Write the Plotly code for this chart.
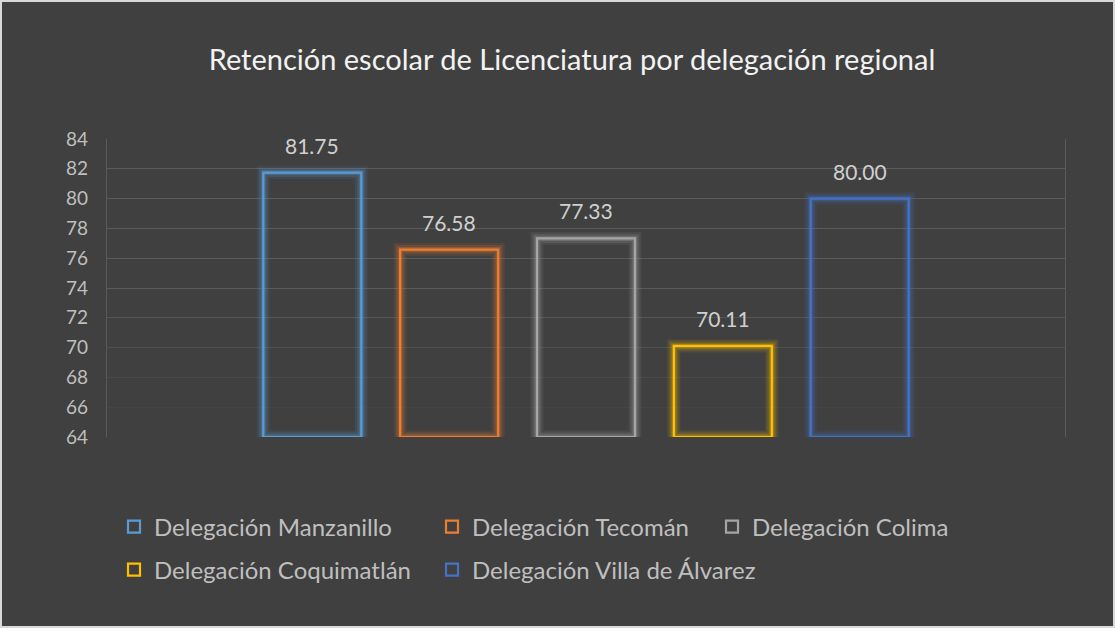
import plotly.graph_objects as go

# Retención escolar de Licenciatura por delegación regional
delegaciones = [
    "Delegación Manzanillo",
    "Delegación Tecomán",
    "Delegación Colima",
    "Delegación Coquimatlán",
    "Delegación Villa de Álvarez",
]
retencion = [81.75, 76.58, 77.33, 70.11, 80.00]
colores = ["#5B9BD5", "#ED7D31", "#A5A5A5", "#FFC000", "#4472C4"]
y_ticks = [64, 66, 68, 70, 72, 74, 76, 78, 80, 82, 84]

W, H = 1115, 628
M_L, M_R, M_T, M_B = 107, 50, 139, 191
BG = "#404040"
TXT = "#BFBFBF"
FONT = "Lato"

y_min, y_max = y_ticks[0], y_ticks[-1]
x_lo, x_hi = -1.5, len(delegaciones) + 0.5

# legend entries laid out on a 3-column grid (pixel centres of the key symbols)
leg_cols = [133, 451, 731]
leg_rows = [527, 570]


def rgba(hex_color, a):
    h = hex_color.lstrip("#")
    r, g, b = int(h[0:2], 16), int(h[2:4], 16), int(h[4:6], 16)
    return f"rgba({r},{g},{b},{a})"


fig = go.Figure()

# soft fade of the gridlines toward the baseline (base axes, under the bars)
fig.add_trace(go.Scatter(
    x=[x_lo, x_hi, x_hi, x_lo, x_lo],
    y=[y_min, y_min, y_max, y_max, y_min],
    fill="toself",
    mode="none",
    fillgradient=dict(
        type="vertical",
        start=y_min,
        stop=y_min + 10,
        colorscale=[[0, rgba(BG, 1.0)], [1, rgba(BG, 0.0)]],
    ),
    showlegend=False,
    hoverinfo="skip",
    xaxis="x", yaxis="y",
))

legend_names = ["legend"] + [f"legend{k}" for k in range(2, len(delegaciones) + 1)]

# outlined bars with a glow halo, on overlaid axes so they sit above the fade
for i, (name, val, col) in enumerate(zip(delegaciones, retencion, colores)):
    for w, a in [(13, 0.10), (9, 0.16), (5, 0.28)]:
        fig.add_trace(go.Bar(
            x=[i], y=[val - y_min], base=y_min,
            marker=dict(color="rgba(0,0,0,0)", line=dict(color=rgba(col, a), width=w)),
            showlegend=False, hoverinfo="skip",
            xaxis="x2", yaxis="y2",
        ))
    fig.add_trace(go.Bar(
        x=[i], y=[val - y_min], base=y_min, name=name,
        marker=dict(color="rgba(0,0,0,0)", line=dict(color=col, width=2.2)),
        legend=legend_names[i],
        xaxis="x2", yaxis="y2",
    ))
    fig.add_annotation(
        x=i, y=val, xref="x2", yref="y2", text=f"{val:.2f}", showarrow=False,
        yanchor="bottom", yshift=13,
        font=dict(family=FONT, size=21, color="#D0D0D0"),
    )

pw = W - M_L - M_R
ph = H - M_T - M_B

legends = {}
for i, lname in enumerate(legend_names):
    cx = leg_cols[i % 3]
    cy = leg_rows[i // 3]
    legends[lname] = dict(
        orientation="h", xanchor="left", yanchor="middle",
        x=(cx - 19 - M_L) / pw, y=1 - (cy - M_T) / ph,
        bgcolor="rgba(0,0,0,0)",
        font=dict(family=FONT, size=24, color=TXT),
        itemclick=False, itemdoubleclick=False,
    )

hidden_x = dict(range=[x_lo, x_hi], showticklabels=False, showgrid=False,
                zeroline=False, showline=False, ticks="")

fig.update_layout(
    width=W, height=H,
    margin=dict(l=M_L, r=M_R, t=M_T, b=M_B),
    paper_bgcolor=BG, plot_bgcolor=BG,
    barmode="overlay", bargap=0.284,
    title=dict(
        text="Retención escolar de Licenciatura por delegación regional",
        x=572 / W, xanchor="center", xref="container",
        y=1 - 60 / H, yanchor="middle", yref="container",
        font=dict(family=FONT, size=29, color="#F2F2F2"),
    ),
    xaxis=hidden_x,
    xaxis2=dict(overlaying="x", **hidden_x),
    yaxis=dict(
        range=[y_min, y_max], tickvals=y_ticks,
        tickfont=dict(family=FONT, size=19, color=TXT),
        ticklabelstandoff=14,
        gridcolor="#5A5A5A", gridwidth=1.3,
        showline=True, linecolor="#5A5A5A", linewidth=1.3, mirror=True,
        zeroline=False, ticks="", ticklen=0,
        layer="below traces",
    ),
    yaxis2=dict(
        range=[y_min, y_max], overlaying="y", showticklabels=False,
        showgrid=False, zeroline=False, showline=False, ticks="",
    ),
    shapes=[dict(
        type="rect", xref="paper", yref="paper",
        x0=-(M_L - 1) / pw, x1=1 + (M_R - 1) / pw,
        y0=-(M_B - 1) / ph, y1=1 + (M_T - 1) / ph,
        line=dict(color="#D9D9D9", width=2), fillcolor="rgba(0,0,0,0)",
        layer="above",
    )],
    **legends,
)

fig.write_html("out.html")
